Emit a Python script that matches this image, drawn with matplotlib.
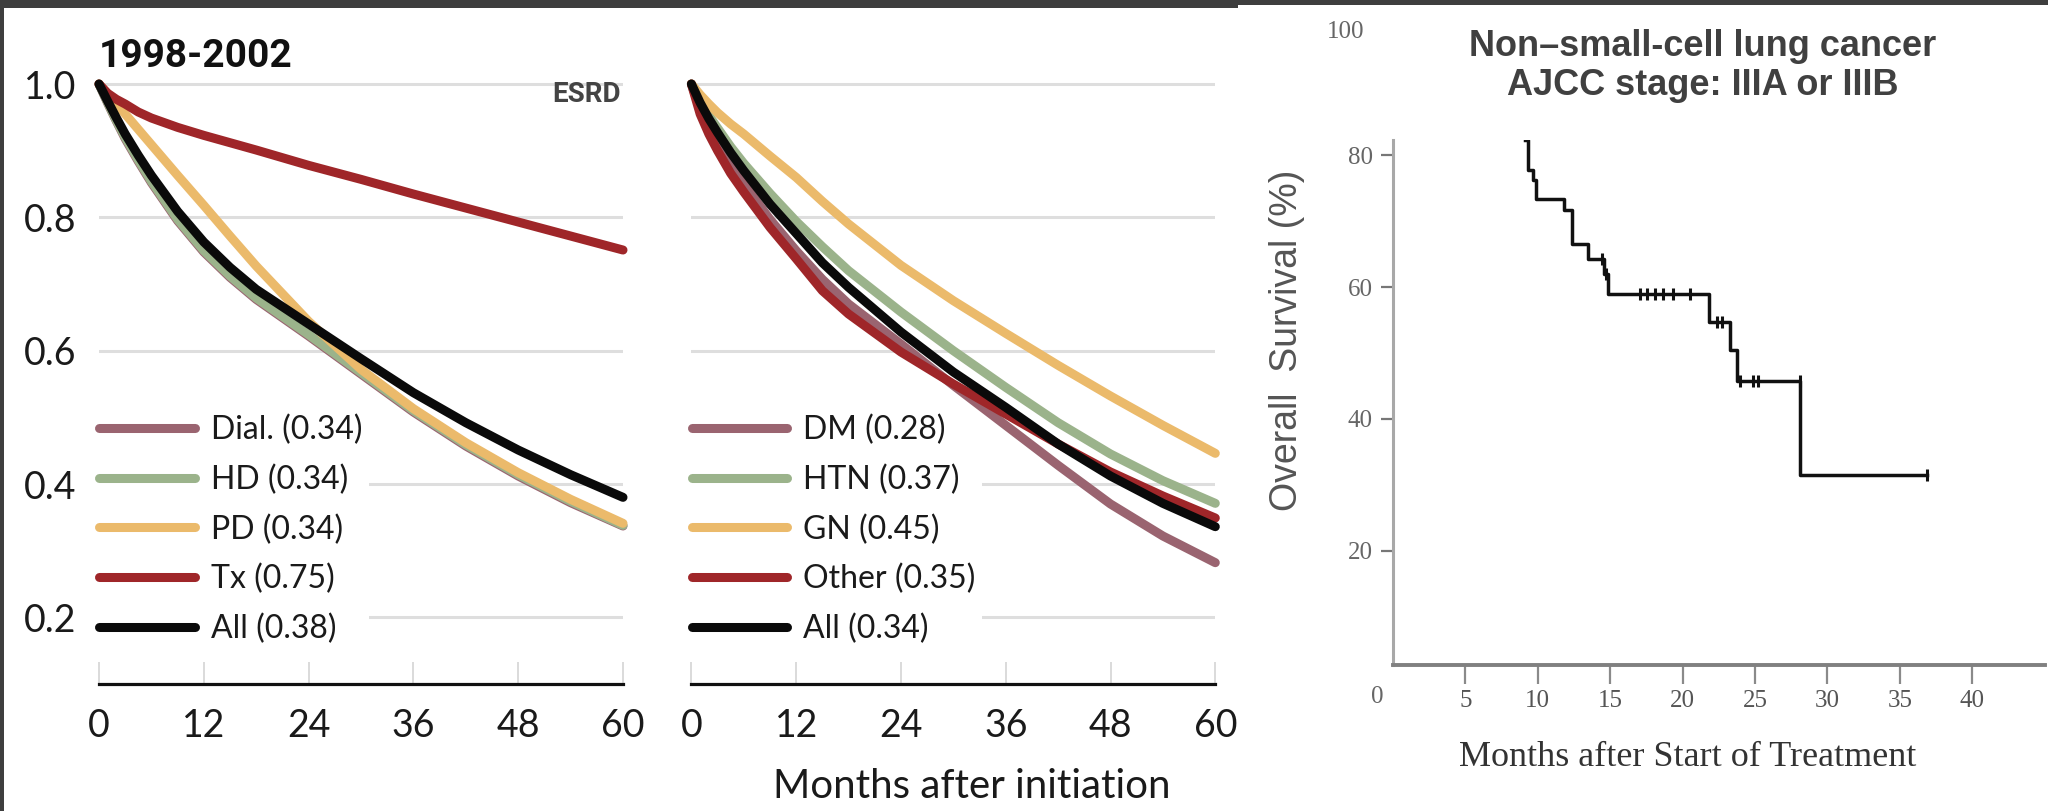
import numpy as np
import matplotlib
matplotlib.use("Agg")
import matplotlib.pyplot as plt
from matplotlib import font_manager
from matplotlib.patches import Rectangle

W, H = 2048, 811

# ---- left two panels: ESRD survival, 1998-2002 ----
months = [0, 1, 2, 3, 4.5, 6, 9, 12, 15, 18, 24, 30, 36, 42, 48, 54, 60]

dial = [1.0, 0.971, 0.944, 0.918, 0.884, 0.852, 0.795, 0.748, 0.710, 0.677, 0.622, 0.565, 0.508, 0.457, 0.412, 0.372, 0.337]
hd = [1.0, 0.972, 0.945, 0.920, 0.886, 0.854, 0.797, 0.750, 0.712, 0.679, 0.624, 0.567, 0.510, 0.459, 0.414, 0.374, 0.338]
pd_ = [1.0, 0.985, 0.970, 0.955, 0.932, 0.909, 0.863, 0.818, 0.772, 0.727, 0.644, 0.572, 0.513, 0.462, 0.417, 0.377, 0.341]
tx = [1.0, 0.986, 0.977, 0.970, 0.958, 0.949, 0.935, 0.923, 0.912, 0.901, 0.878, 0.857, 0.835, 0.814, 0.793, 0.772, 0.751]
all1 = [1.0, 0.974, 0.949, 0.925, 0.893, 0.863, 0.809, 0.763, 0.725, 0.692, 0.640, 0.588, 0.537, 0.492, 0.451, 0.414, 0.380]

dm = [1.0, 0.962, 0.935, 0.912, 0.879, 0.850, 0.797, 0.750, 0.707, 0.670, 0.610, 0.548, 0.488, 0.428, 0.370, 0.322, 0.282]
htn = [1.0, 0.975, 0.953, 0.934, 0.906, 0.881, 0.836, 0.794, 0.756, 0.720, 0.658, 0.600, 0.545, 0.492, 0.445, 0.405, 0.371]
gn = [1.0, 0.984, 0.970, 0.957, 0.940, 0.925, 0.892, 0.860, 0.824, 0.790, 0.728, 0.675, 0.626, 0.578, 0.532, 0.488, 0.446]
other = [1.0, 0.955, 0.925, 0.900, 0.866, 0.838, 0.785, 0.738, 0.690, 0.655, 0.598, 0.550, 0.505, 0.460, 0.418, 0.382, 0.349]
all2 = [1.0, 0.972, 0.948, 0.927, 0.897, 0.870, 0.820, 0.776, 0.732, 0.695, 0.628, 0.568, 0.515, 0.460, 0.412, 0.371, 0.336]

labels1 = ["Dial. (0.34)", "HD (0.34)", "PD (0.34)", "Tx (0.75)", "All (0.38)"]
labels2 = ["DM (0.28)", "HTN (0.37)", "GN (0.45)", "Other (0.35)", "All (0.34)"]
colors = ["#9a6470", "#9bb38b", "#ebba6b", "#9f2629", "#0a0a0a"]
month_ticks = [0, 12, 24, 36, 48, 60]
surv_ticks = [0.2, 0.4, 0.6, 0.8, 1.0]

# ---- right panel: Kaplan-Meier, NSCLC stage IIIA/IIIB ----
km_t = [9.12, 9.35, 9.69, 9.88, 11.8, 12.35, 13.5, 14.55, 14.87, 21.85, 23.3, 23.75, 28.1, 36.86]
km_s = [82.3, 77.7, 76.2, 73.4, 71.7, 66.6, 64.3, 62.0, 59.0, 54.7, 50.5, 45.7, 31.5, 31.5]
cens_t = [14.41, 14.71, 17.06, 17.52, 18.09, 18.67, 19.36, 20.51, 22.35, 22.7, 23.96, 24.88, 25.23, 28.1, 36.86]
cens_s = [64.3, 62.0, 59.0, 59.0, 59.0, 59.0, 59.0, 59.0, 54.7, 54.7, 45.7, 45.7, 45.7, 45.7, 31.5]
km_xticks = [5, 10, 15, 20, 25, 30, 35, 40]
km_yticks = [20, 40, 60, 80]


def px(x0, y0, x1, y1):
    """pixel box (top-left origin) -> figure fraction rect"""
    return [x0 / W, 1 - y1 / H, (x1 - x0) / W, (y1 - y0) / H]


installed = {f.name for f in font_manager.fontManager.ttflist}
narrow = "Liberation Sans Narrow" if "Liberation Sans Narrow" in installed else "Roboto"
sans = "Lato"
lw = 6.5

fig = plt.figure(figsize=(W / 100, H / 100), dpi=100, facecolor="#3e3e3e")
fig.patches.append(Rectangle((4 / W, 0), (1238 - 4) / W, 1 - 8 / H, transform=fig.transFigure,
                             facecolor="white", edgecolor="none", zorder=-5))
fig.patches.append(Rectangle((1238 / W, 0), (W - 1238) / W, 1 - 5 / H, transform=fig.transFigure,
                             facecolor="white", edgecolor="none", zorder=-5))


def esrd_panel(ax, series, labels, show_y):
    ax.set_facecolor("none")
    for ys, c, lab in zip(series, colors, labels):
        ax.plot(months, ys, color=c, lw=lw, solid_capstyle="round", solid_joinstyle="round",
                label=lab, clip_on=False, zorder=3)
    ax.set_xlim(0, 60)
    ax.set_ylim(0.1, 1.02)
    ax.set_xticks(month_ticks)
    ax.set_xticklabels([str(m) for m in month_ticks], fontsize=27, family=sans, color="#1a1a1a")
    ax.tick_params(axis="x", direction="in", length=16, width=1.2, color="#d4d4d4", pad=17)
    ax.set_yticks(surv_ticks)
    if show_y:
        ax.set_yticklabels([f"{v:.1f}" for v in surv_ticks], fontsize=27, family=sans, color="#1a1a1a")
    else:
        ax.set_yticklabels([])
    ax.tick_params(axis="y", length=0, pad=16)
    ax.grid(axis="y", color="#dedede", lw=2.2, zorder=0)
    ax.set_axisbelow(True)
    for s in ["top", "left", "right"]:
        ax.spines[s].set_visible(False)
    ax.spines["bottom"].set_linewidth(2.3)
    ax.spines["bottom"].set_color("#111111")
    leg = ax.legend(loc="center left", bbox_to_anchor=(-0.012, 0.252), frameon=True,
                    facecolor="white", edgecolor="none", framealpha=1, fancybox=False,
                    prop={"family": sans, "size": 23}, handlelength=3.0, handletextpad=0.5,
                    labelspacing=0.6, borderpad=0.2, borderaxespad=0)
    for t in leg.get_texts():
        t.set_color("#1a1a1a")
    leg.set_zorder(2)


ax1 = fig.add_axes(px(99, 70.7, 623, 684))
esrd_panel(ax1, [dial, hd, pd_, tx, all1], labels1, True)
ax2 = fig.add_axes(px(691.4, 70.7, 1215.3, 684))
esrd_panel(ax2, [dm, htn, gn, other, all2], labels2, False)

fig.text(99 / W, 1 - 67 / H, "1998-2002", family=narrow, weight="bold",
         fontsize=31 if narrow != "Roboto" else 28, ha="left", va="baseline", color="#111111")
fig.text(621 / W, 1 - 94 / H, "ESRD", family=narrow, weight="bold",
         fontsize=24 if narrow != "Roboto" else 20, ha="right", va="center", color="#444444")
fig.text(972 / W, 1 - 787 / H, "Months after initiation", family=sans, fontsize=29,
         ha="center", va="center", color="#1a1a1a")

# ---- KM panel ----
ax3 = fig.add_axes(px(1393, 140, 2044.6, 665))
ax3.set_facecolor("none")
ax3.step(km_t, km_s, where="post", color="#111111", lw=2.5, zorder=3)
ax3.plot(cens_t, cens_s, ls="none", marker="|", ms=8, mew=2.2, color="#111111", zorder=4)
ax3.set_xlim(0, 45)
ax3.set_ylim(2.7, 82.3)
ax3.set_xticks(km_xticks)
ax3.set_xticklabels([str(v) for v in km_xticks], family="Liberation Serif", fontsize=18, color="#555555")
ax3.set_yticks(km_yticks)
ax3.set_yticklabels([str(v) for v in km_yticks], family="Liberation Serif", fontsize=18, color="#666666")
ax3.tick_params(axis="x", direction="out", length=14, width=1.6, color="#8a8a8a", pad=4)
ax3.tick_params(axis="y", direction="out", length=8.5, width=1.6, color="#777777", pad=6)
for s in ["top", "right"]:
    ax3.spines[s].set_visible(False)
ax3.spines["left"].set_color("#a8a8a8")
ax3.spines["left"].set_linewidth(2.2)
ax3.spines["bottom"].set_color("#808080")
ax3.spines["bottom"].set_linewidth(2.8)

fig.text(1346 / W, 1 - 32 / H, "100", family="Liberation Serif", fontsize=18,
         ha="center", va="center", color="#666666")
fig.text(1377 / W, 1 - 697 / H, "0", family="Liberation Serif", fontsize=18,
         ha="center", va="center", color="#666666")
fig.text(1287 / W, 1 - 340 / H, "Overall  Survival (%)", family="Liberation Sans", fontsize=27,
         rotation=90, ha="center", va="center", color="#555555")
fig.text(1688 / W, 1 - 757 / H, "Months after Start of Treatment", family="Liberation Serif",
         fontsize=26, ha="center", va="center", color="#333333")
fig.text(1703 / W, 1 - 56 / H, "Non\u2013small-cell lung cancer", family="Liberation Sans",
         weight="bold", fontsize=26, ha="center", va="baseline", color="#404040")
fig.text(1703 / W, 1 - 95 / H, "AJCC stage: IIIA or IIIB", family="Liberation Sans",
         weight="bold", fontsize=26, ha="center", va="baseline", color="#404040")

fig.savefig("out.png", dpi=100, facecolor=fig.get_facecolor())
